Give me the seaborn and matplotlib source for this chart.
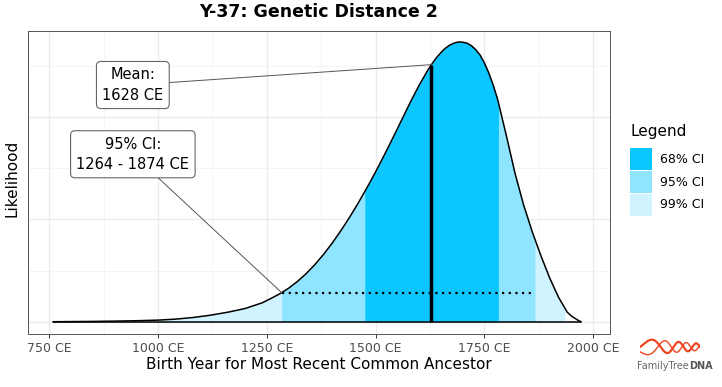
import numpy as np
import matplotlib
matplotlib.use("Agg")
import matplotlib.pyplot as plt
from matplotlib.patches import Rectangle
from matplotlib.ticker import MultipleLocator, FuncFormatter
import seaborn as sns

# likelihood curve (birth year CE, density per year)
years = [759, 850, 900, 950, 1000, 1040, 1080, 1120, 1160, 1200, 1240, 1260,
         1280, 1284, 1300, 1320, 1340, 1360, 1380, 1400, 1420, 1440, 1460,
         1475, 1480, 1500, 1520, 1540, 1560, 1580, 1600, 1620, 1628, 1640,
         1650, 1660, 1670, 1680, 1690, 1700, 1710, 1720, 1730, 1740, 1750,
         1760, 1770, 1780, 1782, 1800, 1820, 1840, 1860, 1866, 1880, 1900,
         1920, 1935, 1940, 1950, 1960, 1966, 1972]
likelihood = [0.0, 0.0000029, 0.0000059, 0.0000098, 0.0000156, 0.0000254,
              0.0000411, 0.0000635, 0.0000929, 0.000129, 0.000186, 0.000229,
              0.000274, 0.000284, 0.000328, 0.000393, 0.000469, 0.000557,
              0.000657, 0.000768, 0.000890, 0.001021, 0.001161, 0.001273,
              0.001310, 0.001466, 0.001631, 0.001801, 0.001975, 0.002149,
              0.002313, 0.002461, 0.002513, 0.002583,
              0.002631, 0.002673, 0.002704, 0.002723, 0.002735, 0.002733,
              0.002723, 0.002698, 0.002659, 0.002606, 0.002528,
              0.002430, 0.002313, 0.002176, 0.002141, 0.001824, 0.001453,
              0.001140, 0.000876, 0.000805, 0.000641, 0.000426,
              0.000240, 0.000131, 0.0000938, 0.0000547, 0.0000274, 0.0000117,
              0.0]

# interval edges as drawn
ci_names = ["68% CI", "95% CI", "99% CI"]
ci_low = [1475, 1284, 1000]
ci_high = [1782, 1866, 1935]
ci_colors = ["#0BC6FF", "#8FE4FF", "#D0F4FF"]

mean_year = 1628
mean_text = "Mean:\n1628 CE"
ci_text = "95% CI:\n1264 - 1874 CE"
x_ticks = [750, 1000, 1250, 1500, 1750, 2000]

W, H = 722, 387
sns.set_theme(style="white")
plt.rcParams["font.family"] = ["DejaVu Sans"]
plt.rcParams["text.color"] = "black"

fig = plt.figure(figsize=(W / 100, H / 100), dpi=100)
ax = fig.add_axes([27.7 / W, 1 - 334 / H, (610 - 27.7) / W, (334 - 30.8) / H])

yrs = np.array(years)
lik = np.array(likelihood)

# bands: widest first, narrower on top
for lo, hi, col in reversed(list(zip(ci_low, ci_high, ci_colors))):
    mask = (yrs >= lo) & (yrs <= hi)
    ax.fill_between(yrs, 0, lik, where=mask, color=col, lw=0, zorder=2)

sns.lineplot(x=years, y=likelihood, ax=ax, color="black", lw=1.1, zorder=4)
ax.plot([years[0], years[-1]], [0, 0], color="black", lw=1.1, zorder=4)

# mean line and 95% interval
mean_lik = np.interp(mean_year, yrs, lik)
ax.plot([mean_year, mean_year], [0, mean_lik], color="black", lw=2.5, zorder=5,
        solid_capstyle="butt")
ci95_lik = np.interp(ci_low[1], yrs, lik)
ax.plot([ci_low[1], ci_high[1]], [ci95_lik, ci95_lik], color="black", lw=1.6,
        linestyle=(0, (1, 2)), zorder=5)

# labels with leader lines
box = dict(boxstyle="round,pad=0.4,rounding_size=0.3", fc="white", ec="#666666", lw=0.8)
ax.annotate(mean_text, xy=(mean_year, mean_lik), xytext=(942, 0.002314),
            ha="center", va="center", fontsize=10.5, linespacing=1.45, bbox=box,
            arrowprops=dict(arrowstyle="-", color="#555555", lw=0.7,
                            shrinkA=0, shrinkB=0), zorder=6)
ax.annotate(ci_text, xy=(ci_low[1], ci95_lik), xytext=(942, 0.001637),
            ha="center", va="center", fontsize=10.5, linespacing=1.45, bbox=box,
            arrowprops=dict(arrowstyle="-", color="#555555", lw=0.7,
                            shrinkA=0, shrinkB=0), zorder=6)

ax.set_xlim(700.4, 2038.4)
ax.set_ylim(-0.00012, 0.002844)
ax.set_xticks(x_ticks)
ax.xaxis.set_minor_locator(MultipleLocator(125))
ax.yaxis.set_major_locator(MultipleLocator(0.001))
ax.yaxis.set_minor_locator(MultipleLocator(0.0005))
ax.xaxis.set_major_formatter(FuncFormatter(lambda v, p: f"{int(v)} CE"))
ax.set_yticklabels([])
ax.grid(which="major", color="#EBEBEB", lw=1.0, zorder=0)
ax.grid(which="minor", color="#F3F3F3", lw=0.6, zorder=0)
ax.set_axisbelow(True)
ax.tick_params(axis="x", which="major", length=3, width=0.7, color="#333333",
               labelsize=9, labelcolor="#4D4D4D", pad=2.5, bottom=True)
ax.tick_params(axis="y", length=0)
ax.tick_params(which="minor", length=0)
for s in ax.spines.values():
    s.set_color("#555555")
    s.set_linewidth(0.7)
ax.set_xlabel("")
ax.set_ylabel("")

cx = (27.7 + 610) / 2 / W
fig.text(cx, 1 - 12 / H, "Y-37: Genetic Distance 2", ha="center", va="center",
         fontsize=12.5, fontweight="bold")
fig.text(cx, 1 - 364.5 / H, "Birth Year for Most Recent Common Ancestor",
         ha="center", va="center", fontsize=11)
fig.text(12 / W, 1 - 178 / H, "Likelihood", rotation=90, ha="center",
         va="center", fontsize=11)

# legend drawn by hand to match key size and spacing
fig.text(630 / W, 1 - 131.5 / H, "Legend", ha="left", va="center", fontsize=11)
for i, (name, col) in enumerate(zip(ci_names, ci_colors)):
    top = 148 + 23 * i
    fig.patches.append(Rectangle((630 / W, 1 - (top + 22) / H), 22 / W, 22 / H,
                                 transform=fig.transFigure, fc=col, ec="none"))
    fig.text(660 / W, 1 - (top + 11) / H, name, ha="left", va="center", fontsize=9)

# FamilyTreeDNA logo
lax = fig.add_axes([640 / W, 1 - 357 / H, 60 / W, 20 / H])
t = np.linspace(0, 1, 200)
amp = 1 - 0.6 * t
ph = 2 * np.pi * (0.9 * t + 1.6 * t ** 2)
lax.plot(t, amp * np.sin(ph), color="#EE4422", lw=1.6)
lax.plot(t, -amp * np.sin(ph + 0.6), color="#EE4422", lw=1.0)
lax.set_xlim(0, 1)
lax.set_ylim(-1.2, 1.2)
lax.axis("off")
ft = fig.text(637 / W, 1 - 366 / H, "FamilyTree", fontsize=7, color="#666666",
              va="center")
fig.canvas.draw()
bb = ft.get_window_extent()
fig.text(bb.x1 / W, 1 - 366 / H, "DNA", fontsize=7, color="#555555",
         fontweight="bold", va="center")

fig.savefig("out.png", dpi=100)
